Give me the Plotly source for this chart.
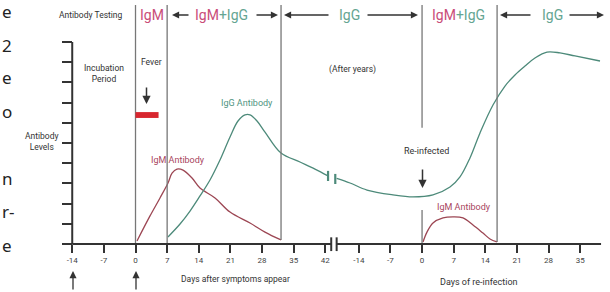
import plotly.graph_objects as go

# ---------------- data ----------------
ticks_phase1 = [-14, -7, 0, 7, 14, 21, 28, 35, 42]
ticks_phase2 = [-14, -7, 0, 7, 14, 21, 28, 35]
REINFECT_OFFSET = 63.4  # re-infection day 0 on the continuous day scale

# first infection (days after symptoms appear)
igm1_days = [0.33, 3.21, 5.42, 7.19, 8.08, 9.18, 10.51, 12.5, 14.27, 17.59, 20.91, 25.33, 28.65, 32.19]
igm1_level = [0.15, 1.39, 2.28, 3.02, 3.51, 3.71, 3.66, 3.27, 2.77, 2.28, 1.58, 1.04, 0.59, 0.2]
igg1_days = [7.19, 9.85, 12.06, 14.27, 16.48, 18.69, 20.91, 22.68, 24.23, 25.33, 26.88, 28.65, 32.19, 36.39, 39.71, 42.59]
igg1_level = [0.35, 0.99, 1.63, 2.38, 3.17, 4.16, 5.3, 6.09, 6.39, 6.39, 6.09, 5.54, 4.5, 4.06, 3.71, 3.37]

# re-infection (days of re-infection)
igg2_days = [-18.9, -15.94, -12.18, -6.43, -2.01, 2.42, 6.18, 8.39, 10.6, 12.82, 15.69, 18.35, 20.56, 22.77, 24.98, 27.64, 30.52, 33.83, 39.37]
igg2_level = [3.25, 3.02, 2.67, 2.43, 2.33, 2.43, 2.82, 3.32, 4.26, 5.5, 6.88, 7.82, 8.37, 8.81, 9.21, 9.5, 9.46, 9.31, 9.06]
igm2_days = [0.21, 1.09, 2.42, 4.63, 6.84, 9.06, 11.27, 13.48, 15.03, 16.58]
igm2_level = [0.1, 0.59, 1.04, 1.29, 1.34, 1.29, 0.94, 0.54, 0.25, 0.1]

fever_days = [0, 5.1]
phase1_lines = [0, 7, 32.2]
phase2_lines = [0, 16.6]
level_ticks = list(range(0, 11))

# ---------------- style ----------------
W, H = 610, 292
FONT = "Roboto, Arial, sans-serif"
C_TXT = "#333333"
C_IGM_CURVE = "#9c4653"
C_IGG_CURVE = "#4d8a7a"
C_IGM_TXT = "#c94c78"
C_IGG_TXT = "#64a592"
C_IGM_LBL = "#a8455e"
C_IGG_LBL = "#4f9481"
C_VLINE = "#777777"

def shift(days):
    return [d + REINFECT_OFFSET for d in days]

fig = go.Figure()
curve_kw = dict(mode="lines", line_shape="spline", hoverinfo="skip", showlegend=False)
fig.add_trace(go.Scatter(x=igm1_days, y=igm1_level, line=dict(color=C_IGM_CURVE, width=1.3), **curve_kw))
fig.add_trace(go.Scatter(x=igg1_days, y=igg1_level, line=dict(color=C_IGG_CURVE, width=1.3), **curve_kw))
fig.add_trace(go.Scatter(x=shift(igg2_days), y=igg2_level, line=dict(color=C_IGG_CURVE, width=1.3), **curve_kw))
fig.add_trace(go.Scatter(x=shift(igm2_days), y=igm2_level, line=dict(color=C_IGM_CURVE, width=1.3), **curve_kw))

shapes = []
TOP = 11.83
# vertical phase lines
for d in phase1_lines:
    y0 = 0.2 if d > 30 else 0
    shapes.append(dict(type="line", x0=d, x1=d, y0=y0, y1=TOP, xref="x", yref="y",
                       line=dict(color=C_VLINE, width=1.3)))
r0 = REINFECT_OFFSET + phase2_lines[0]
shapes.append(dict(type="line", x0=r0, x1=r0, y0=0, y1=1.68, line=dict(color=C_VLINE, width=1.3)))
shapes.append(dict(type="line", x0=r0, x1=r0, y0=5.75, y1=TOP, line=dict(color=C_VLINE, width=1.3)))
r1 = REINFECT_OFFSET + phase2_lines[1]
shapes.append(dict(type="line", x0=r1, x1=r1, y0=0.1, y1=TOP, line=dict(color=C_VLINE, width=1.3)))

# fever bar
shapes.append(dict(type="rect", x0=fever_days[0], x1=fever_days[1], y0=6.24, y1=6.53,
                   fillcolor="#d8262f", line=dict(width=0)))

# axis lines (with break)
BRK0, BRK1 = 43.3, 44.5
shapes.append(dict(type="line", x0=-14, x1=-14, y0=0, y1=10, line=dict(color=C_TXT, width=2)))
shapes.append(dict(type="line", x0=-14, x1=BRK0, y0=0, y1=0, line=dict(color=C_TXT, width=2)))
shapes.append(dict(type="line", x0=BRK1, x1=103.0, y0=0, y1=0, line=dict(color=C_TXT, width=2)))
for b in (BRK0, BRK1):
    shapes.append(dict(type="line", x0=b, x1=b, y0=-0.35, y1=0.33, line=dict(color=C_TXT, width=2)))
# break marks on the IgG curve
shapes.append(dict(type="line", x0=42.6, x1=42.6, y0=3.12, y1=3.62, line=dict(color=C_IGG_CURVE, width=2.2)))
shapes.append(dict(type="line", x0=44.2, x1=44.2, y0=2.97, y1=3.47, line=dict(color=C_IGG_CURVE, width=2.2)))

ann = []
def text(x, y, t, size=9, color=C_TXT, xanchor="center", family=FONT):
    ann.append(dict(x=x / W, y=1 - y / H, xref="paper", yref="paper", text=t, showarrow=False,
                    xanchor=xanchor, yanchor="middle", font=dict(size=size, color=color, family=family)))

def arrow(hx, hy, tx, ty, width=1.3):
    ann.append(dict(x=hx / W, y=1 - hy / H, xref="paper", yref="paper", text="", showarrow=True,
                    ax=tx - hx, ay=ty - hy, axref="pixel", ayref="pixel",
                    arrowhead=2, arrowsize=1.1, arrowwidth=width, arrowcolor=C_TXT, standoff=0))

# fragments of neighbouring page text at the left edge
for yy, t in [(12, "e"), (45, "2"), (78, "e"), (111, "o"), (178, "n"), (211, "r-"), (245, "e")]:
    text(0, yy, t, size=17, color="#222222", xanchor="left", family="Noto Sans, sans-serif")

# header
text(91, 15, "Antibody Testing", size=8.5)
text(151.5, 15, "IgM", size=14, color=C_IGM_TXT)
text(221.5, 15, f"<span style='color:{C_IGM_TXT}'>IgM</span>+IgG", size=14, color=C_IGG_TXT)
text(349, 15, "IgG", size=14, color=C_IGG_TXT)
text(458.5, 15, f"<span style='color:{C_IGM_TXT}'>IgM</span>+IgG", size=14, color=C_IGG_TXT)
text(552.5, 15, "IgG", size=14, color=C_IGG_TXT)
arrow(172, 15, 190, 15)
arrow(278, 15, 255, 15)
arrow(284, 15, 330, 15)
arrow(418, 15, 366, 15)
arrow(500, 15, 532, 15)
arrow(604, 15, 568, 15)

# body labels
text(103.5, 73, "Incubation<br>Period", size=8.5)
text(151.5, 62, "Fever", size=8.5)
arrow(146.5, 104, 146.5, 86, width=1.5)
text(41.5, 141, "Antibody<br>Levels", size=8.5)
text(177.5, 160, "IgM Antibody", size=9, color=C_IGM_LBL)
text(246.5, 103, "IgG Antibody", size=9, color=C_IGG_LBL)
text(352.5, 70, "(After years)", size=8.5)
text(426, 151, "Re-infected", size=9)
arrow(422.5, 188, 422.5, 168, width=1.5)
text(463.5, 207, "IgM Antibody", size=9, color=C_IGM_LBL)
text(235, 279, "Days after symptoms appear", size=8.5)
text(478.5, 282, "Days of re-infection", size=9)
arrow(73, 271, 73, 291, width=1.3)
arrow(136, 271, 136, 291, width=1.3)

tickvals = ticks_phase1 + shift(ticks_phase2)
ticktext = [str(t) for t in ticks_phase1] + [str(t) for t in ticks_phase2]

fig.update_layout(
    width=W, height=H, autosize=False,
    margin=dict(l=0, r=0, t=0, b=0),
    paper_bgcolor="white", plot_bgcolor="white",
    shapes=shapes, annotations=ann,
    xaxis=dict(range=[-29.98, 104.98], domain=[0, 1], anchor="free", position=48 / H,
               tickvals=tickvals, ticktext=ticktext, ticks="outside", ticklen=8, tickwidth=2,
               tickcolor=C_TXT, showline=False, showgrid=False, zeroline=False,
               tickfont=dict(size=8, color="#444444", family=FONT), automargin=False,
               fixedrange=True),
    yaxis=dict(range=[-2.376, 12.079], domain=[0, 1], anchor="free", position=72.2 / W,
               tickvals=level_ticks, ticks="outside", ticklen=10, tickwidth=2, tickcolor=C_TXT,
               showticklabels=False, showline=False, showgrid=False, zeroline=False,
               automargin=False, fixedrange=True),
    showlegend=False,
)

fig.write_html("out.html", config={"displayModeBar": False},
               post_script="document.body.style.margin='0';document.body.style.overflow='hidden';")
